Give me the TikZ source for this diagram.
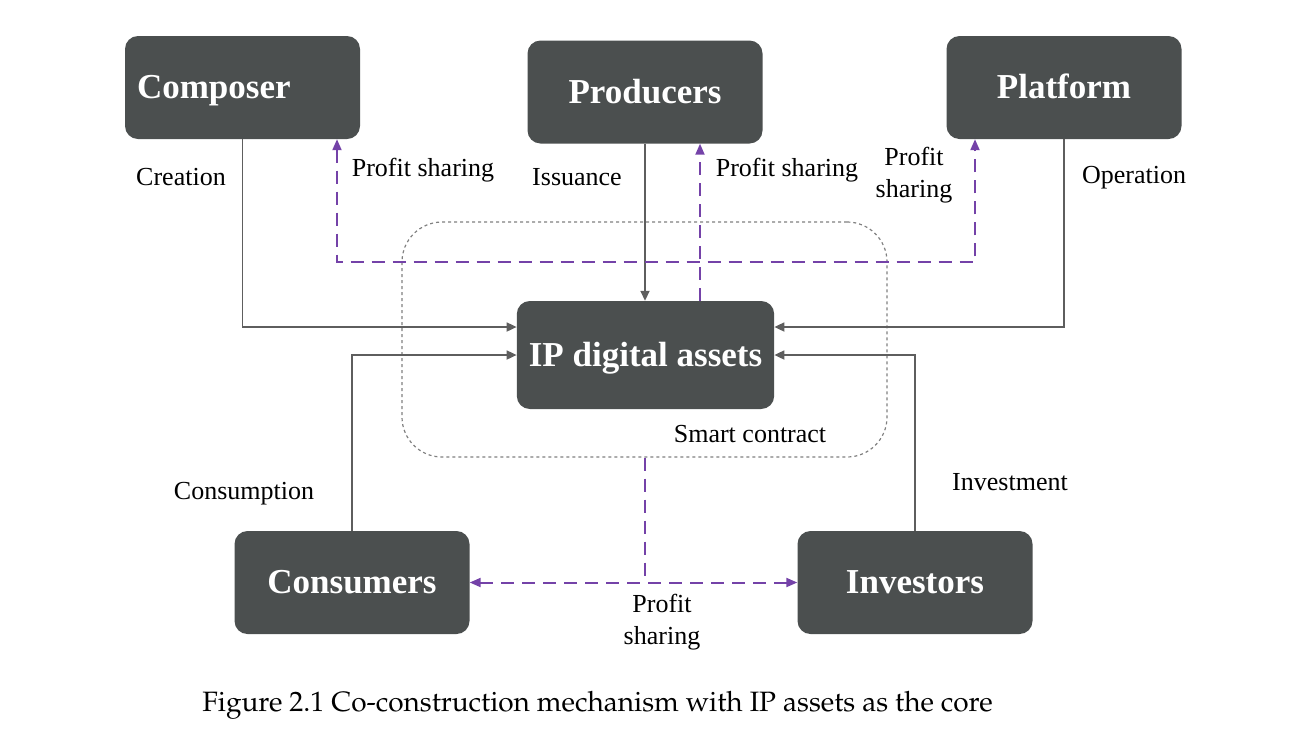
\documentclass[tikz,border=0pt]{standalone}
\usepackage[T1]{fontenc}
\usepackage{fontspec}
\setmainfont{Liberation Serif}
\usetikzlibrary{arrows.meta}
\definecolor{boxgray}{HTML}{4B4F4F}
\definecolor{linegray}{HTML}{5E5E5E}
\definecolor{sharepurple}{HTML}{7442A8}
\tikzset{
  actor/.style={fill=boxgray, draw=none, rounded corners=13pt, minimum width=235pt,
    minimum height=103pt, inner sep=12pt, text height=26pt, text depth=4pt,
    text=white, font=\fontsize{35}{42}\selectfont\bfseries},
  flow/.style={draw=linegray, line width=1.7pt, -{Triangle[length=10pt,width=9pt]}},
  share/.style={draw=sharepurple, line width=2pt, dash pattern=on 13pt off 8pt},
  shareto/.style={share, -{Triangle[length=11pt,width=9pt]}},
  sharetwo/.style={share, {Triangle[length=11pt,width=9pt]}-{Triangle[length=11pt,width=9pt]}},
  contract/.style={draw=gray, line width=1.2pt, dash pattern=on 3pt off 3pt, rounded corners=40pt},
  lbl/.style={font=\fontsize{26}{32}\selectfont, align=center, inner sep=0pt}
}
\begin{document}
\begin{tikzpicture}[x=1pt, y=-1pt]
		\useasboundingbox (0,0) rectangle (1298,748);
		%smart contract frame
		\node[contract, minimum width=485pt, minimum height=235pt] (sc) at (644.5,339.5) {};
		\node[lbl] (sctext) at (750,434) {Smart contract};
		
		%boxes
		\node[actor] (composer) at (242.5,87.5) {\makebox[211pt][l]{Composer}};
		\node[actor] (producers) at (645,92) {Producers};
		\node[actor] (platform) at (1064,87.5) {Platform};
		\node[actor, minimum width=251pt, minimum height=108pt] (ip) at (645.5,355) {IP digital assets};
		\node[actor] (consumers) at (352,582.5) {Consumers};
		\node[actor] (investors) at (915,582.5) {Investors};
		
		%flows into the assets
		\draw[flow] (composer.south) |- ([yshift=28pt]ip.west);
		\draw[flow] (consumers.north) |- (ip.west);
		\draw[flow] (platform.south) |- ([yshift=28pt]ip.east);
		\draw[flow] (investors.north) |- (ip.east);
		\draw[flow] (producers.south) -- (producers.south |- ip.north);
		
		%profit sharing
		\coordinate (shareL) at (337,262);
		\coordinate (shareM) at (700,262);
		\coordinate (shareR) at (975,262);
		\draw[shareto] (ip.north -| shareM) -- (producers.south -| shareM);
		\draw[sharetwo] (composer.south -| shareL) -- (shareL) -- (shareR) -- (platform.south -| shareR);
		\coordinate (fork) at (sc.south |- consumers.east);
		\draw[share] (sc.south) -- (fork);
		\draw[sharetwo] (consumers.east) -- (investors.west);
		
		%labels
		\node[lbl] (creation) at (181,177) {Creation};
		\node[lbl] (shareC) at (423,170) {Profit sharing};
		\node[lbl] (issuance) at (577,177) {Issuance};
		\node[lbl] (shareP) at (787,170) {Profit sharing};
		\node[lbl] (shareF) at (914,175) {Profit\\sharing};
		\node[lbl] (operation) at (1134,178) {Operation};
		\node[lbl] (consumption) at (244,494) {Consumption};
		\node[lbl] (investment) at (1010,482) {Investment};
		\node[lbl] (shareB) at (662,622) {Profit\\sharing};
		
		\node[inner sep=0pt, font=\fontencoding{T1}\fontfamily{ppl}\fontsize{28}{33}\selectfont] (caption) at (597.5,705) {Figure 2.1 Co-construction mechanism with IP assets as the core};
\end{tikzpicture}
\end{document}
